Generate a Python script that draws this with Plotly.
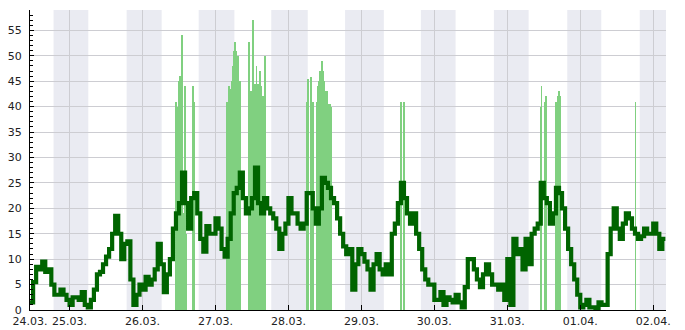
import pandas as pd
import plotly.graph_objects as go

BASE = pd.Timestamp("2021-03-24 00:00")

# Mean wind (hourly samples starting 24.03. 11:00)
series_start_h = 11.0
wind_mean = [
    1.5, 5.5, 8.5, 8, 9.5, 7.5, 8, 5, 3, 3, 4, 3, 2, 1, 2.5, 2.5, 2, 3.5, 1, 0.5, 2, 4,
    7, 7.5, 9, 10.5, 12, 15, 18.5,
    15, 10, 13, 13.5, 6, 1, 3, 5, 4, 6.5, 5, 6, 8, 13, 9, 3.5, 7, 10, 16, 19, 21, 27,
    21,
    16, 22, 23, 19, 14, 11.5, 16.5, 15, 15, 18, 16, 12, 10.5, 14, 19,
    23, 24, 27, 22, 19, 20, 22, 28, 21, 19, 22, 20, 19,
    18, 16, 12, 15, 17, 22, 19, 19, 17, 16, 17, 23, 23, 20, 17, 20, 26, 25, 24, 22, 21, 18, 15, 12.5, 11,
    12, 4, 9, 12, 11, 9.5, 8, 4, 9, 11, 8, 7, 9, 7, 15, 17, 21, 25, 22, 19, 17, 19, 15, 12, 8, 6,
    5, 5, 2, 2, 3.5, 1, 2.5, 2, 1.5, 3, 1.5, 0.5, 4.5, 10, 10, 8, 6, 4.5, 7, 9, 7, 5, 5, 4, 5, 2, 10,
    1, 14, 11, 12, 8, 14, 9, 15, 16, 17, 25, 22, 21, 17, 19, 24, 23, 20, 16, 12, 9, 6, 3, 0.5, 1, 2,
    0.5, 0.5, 0, 1.5, 1, 1, 11, 16, 20, 16, 14, 17, 19, 18, 16, 15, 14, 14.5, 16, 15, 15, 17, 15, 12, 14, 14,
]

# Gust bars (hours since 24.03. 00:00, value)
gust_hours = [
    58.90, 59.56, 59.75, 59.98, 60.10, 60.31, 60.60, 60.87, 61.10, 61.40, 61.65, 61.96, 62.30, 64.59, 64.92,
    75.85, 76.45, 76.91, 77.43, 77.76, 77.99, 78.42, 78.88, 79.31, 79.74, 80.20,
    83.03, 83.59, 84.35, 84.91, 85.47, 85.99, 86.55, 87.11, 87.64, 88.30,
    101.93, 102.45, 103.51, 104.00,
    105.22, 105.40, 105.55, 105.75, 105.98, 106.20, 106.47, 106.75, 107.06, 107.25, 107.46,
    107.65, 107.85, 108.10, 108.38, 108.60, 108.84, 109.10, 109.37, 109.65, 109.93,
    133.07, 133.96,
    178.96, 179.29, 180.28, 180.71, 183.90, 184.50, 185.05, 185.42,
    210.17,
]
gust_values = [
    41, 40, 20, 45, 19, 46, 20, 54, 18, 19, 15, 44, 15, 44, 41,
    41, 44, 43.5, 45, 48, 51, 52.7, 51, 50, 45, 45,
    52.7, 43, 57, 44.5, 48, 44.5, 47, 44, 42, 50,
    41, 45.5, 45.8, 41,
    41, 40.5, 44, 40.5, 45, 40.5, 47, 40.5, 49, 40.5, 47,
    40.5, 45, 40.5, 43, 40.5, 43, 40.5, 40, 40.5, 40,
    41, 41,
    40, 44, 41, 42, 41, 42, 43, 42,
    41,
]

# Night shading (hours since 24.03. 00:00)
night_start = [18.73, 42.77, 66.47, 90.34, 114.63, 139.56, 163.59, 187.72, 211.56]
night_end = [30.16, 54.29, 78.22, 102.35, 127.38, 150.98, 175.01, 198.91, 224.0]

tick_hours = [11.0, 24, 48, 72, 96, 120, 144, 168, 192, 216]
tick_labels = ["24.03.", "25.03.", "26.03.", "27.03.", "28.03.", "29.03.", "30.03.",
               "31.03.", "01.04.", "02.04."]

x_range_h = [10.98, 220.2]
y_range = [0, 59]


def h2t(h):
    return BASE + pd.to_timedelta(h, unit="h")


mean_times = pd.date_range(h2t(series_start_h), periods=len(wind_mean), freq="h")
gust_times = [h2t(h) for h in gust_hours]

fig = go.Figure()
fig.add_trace(go.Bar(
    x=gust_times, y=gust_values,
    width=14 * 60 * 1000,
    marker=dict(color="rgb(128,208,128)", line=dict(width=0)),
    showlegend=False,
))
fig.add_trace(go.Scatter(
    x=mean_times, y=wind_mean, mode="lines",
    line=dict(color="rgb(0,100,0)", width=4.2, shape="hv"),
    showlegend=False,
))

for s, e in zip(night_start, night_end):
    fig.add_shape(type="rect", xref="x", yref="paper", x0=h2t(s), x1=h2t(e), y0=0, y1=1,
                  fillcolor="rgb(234,235,242)", line=dict(width=0), layer="below")

font = dict(family="DejaVu Sans", size=11, color="#222")
fig.update_layout(
    width=685, height=330,
    margin=dict(l=30, r=19, t=10, b=20, autoexpand=False),
    paper_bgcolor="white", plot_bgcolor="white",
    font=font, bargap=0,
)
fig.update_xaxes(
    type="date", range=[h2t(x_range_h[0]), h2t(x_range_h[1])],
    tickmode="array", tickvals=[h2t(h) for h in tick_hours], ticktext=tick_labels,
    ticks="inside", ticklen=5, tickcolor="black",
    showgrid=True, gridcolor="rgb(205,205,210)", gridwidth=1,
    showline=True, linecolor="black", linewidth=1,
    tickfont=font, zeroline=False, automargin=False, ticklabelstandoff=1,
)
fig.update_yaxes(
    range=y_range, dtick=5, tick0=0,
    ticks="inside", ticklen=4, tickcolor="black",
    minor=dict(dtick=1, ticks="inside", ticklen=3, tickcolor="black", showgrid=False),
    showgrid=True, gridcolor="rgb(205,205,210)", gridwidth=1,
    showline=True, linecolor="black", linewidth=1,
    zeroline=False, tickfont=font, ticklabelstandoff=5, automargin=False,
)

fig.write_html("out.html")
